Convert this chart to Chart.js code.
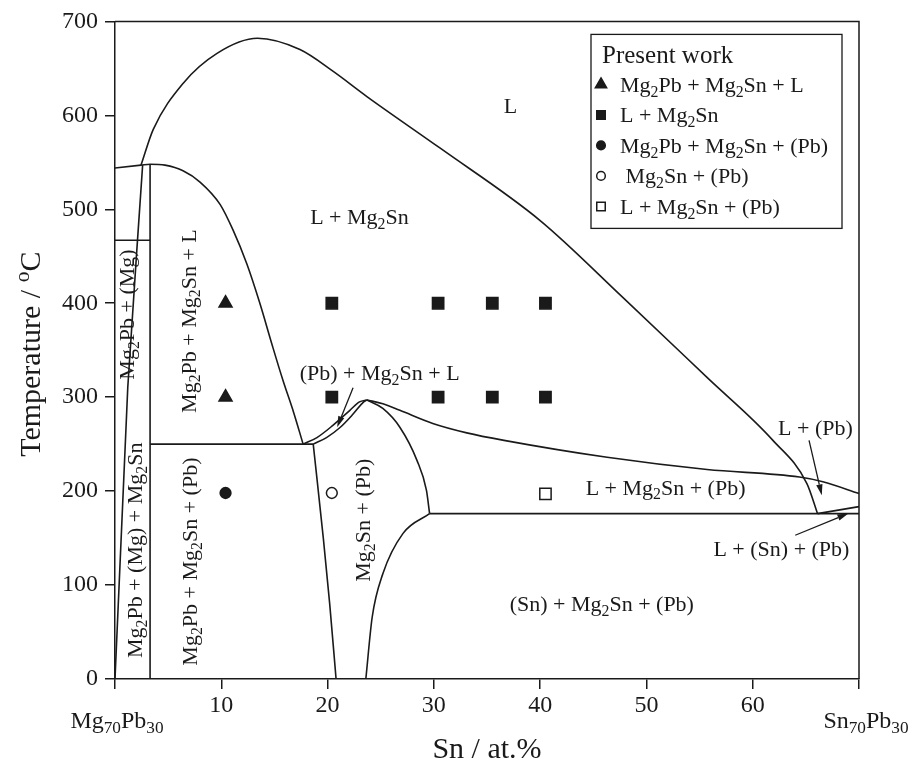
<!DOCTYPE html>
<html>
<head>
<meta charset="utf-8">
<title>Mg70Pb30 - Sn70Pb30 section</title>
<script src="https://cdn.jsdelivr.net/npm/chart.js"></script>
<style>
  html, body { margin: 0; padding: 0; background: #fff; }
  #wrap { width: 924px; height: 772px; }
</style>
</head>
<body>
<div id="wrap"><canvas id="phaseChart" width="924" height="772"></canvas></div>
<script>
// Isopleth Mg70Pb30 - Sn70Pb30: phase boundaries as [Sn at.%, T / °C]
const leftLiquidus   = [[0, 544], [2.45, 547]];
const mainLiquidus   = [[2.45, 547], [3.6, 585], [6.4, 634], [9.6, 666], [13.4, 682], [17.4, 670], [20.5, 647],
                        [23.7, 620], [30.6, 565], [40, 488], [47.8, 406], [55.7, 321], [61.9, 254], [65.1, 208], [66.1, 176]];
const mg2snLiquidus  = [[2.45, 547], [3.3, 548], [4.7, 547], [6.4, 541], [8.0, 529], [9.9, 505], [11.1, 478],
                        [12.4, 442], [13.6, 401], [14.8, 355], [15.8, 318], [16.8, 284], [17.7, 250]];
const mgSolvus       = [[0, 0], [1.2, 310], [2.05, 456], [2.6, 547]];
const mg2pbLine      = [[3.3, 548], [3.3, 0]];
const mgEutectic     = [[0, 467], [3.3, 467]];
const pbEutectic     = [[3.3, 250], [18.65, 250]];
const threePhaseTop  = [[17.7, 250], [19.0, 257], [20.5, 270], [22.1, 286], [23.0, 295], [23.7, 297]];
const threePhaseLow  = [[18.65, 250], [19.9, 257], [21.2, 268], [22.4, 282], [23.4, 295], [23.7, 297]];
const mg2snPbLeft    = [[18.65, 250], [19.6, 150], [20.2, 80], [20.8, 0]];
const pbLiquidus     = [[23.7, 297], [25.2, 293], [26.8, 286], [29.9, 272], [33.1, 262], [36.6, 254], [46.3, 236],
                        [55.7, 223], [64.4, 215], [66.6, 210], [70, 197.5]];
const pbSolvus       = [[23.7, 297], [25.2, 288], [26.8, 268], [28.4, 233], [29.3, 201], [29.6, 176]];
const snSolvus       = [[23.6, 0], [24.2, 66], [25.2, 112], [27.1, 155], [29.6, 176]];
const snEutectic     = [[29.6, 176], [70, 176]];
const lSnPbLine      = [[66.1, 176], [70, 183.5]];

// Experimental points (present work)
const triPts     = [[10.4, 400], [10.4, 300]];
const squarePts  = [[20.4, 400], [30.4, 400], [35.5, 400], [40.5, 400],
                    [20.4, 300], [30.4, 300], [35.5, 300], [40.5, 300]];
const dotPts     = [[10.4, 198]];
const ringPts    = [[20.4, 198]];
const boxPts     = [[40.5, 197]];

const xTicks = [0, 10, 20, 30, 40, 50, 60, 70];
const yTicks = [0, 100, 200, 300, 400, 500, 600, 700];

const FONT = "'Liberation Serif', 'Times New Roman', serif";
const INK = '#1a1a1a';

// '_' starts a numeric subscript, '^' raises the next character
function parseRich(str) {
    const segs = [];
    let buf = '';
    for (let i = 0; i < str.length; i++) {
        const c = str[i];
        if (c === '_') {
            if (buf) { segs.push({ t: buf, k: 'n' }); buf = ''; }
            let s = '';
            while (i + 1 < str.length && /\d/.test(str[i + 1])) s += str[++i];
            segs.push({ t: s, k: 'sub' });
        } else if (c === '^') {
            if (buf) { segs.push({ t: buf, k: 'n' }); buf = ''; }
            segs.push({ t: str[++i], k: 'sup' });
        } else {
            buf += c;
        }
    }
    if (buf) segs.push({ t: buf, k: 'n' });
    return segs;
}

function drawRich(ctx, str, x, y, size, align, rotate) {
    const segs = parseRich(str);
    const small = size * 0.72;
    ctx.save();
    ctx.translate(x, y);
    if (rotate) ctx.rotate(-Math.PI / 2);
    ctx.fillStyle = INK;
    ctx.textBaseline = 'alphabetic';
    ctx.textAlign = 'left';
    let total = 0;
    segs.forEach(s => {
        ctx.font = (s.k === 'n' ? size : small) + 'px ' + FONT;
        s.w = ctx.measureText(s.t).width;
        total += s.w;
    });
    let cx = align === 'left' ? 0 : align === 'right' ? -total : -total / 2;
    const base = size * 0.33;
    segs.forEach(s => {
        ctx.font = (s.k === 'n' ? size : small) + 'px ' + FONT;
        let dy = 0;
        if (s.k === 'sub') dy = size * 0.22;
        if (s.k === 'sup') dy = -size * 0.36;
        ctx.fillText(s.t, cx, base + dy);
        cx += s.w;
    });
    ctx.restore();
}

function drawMarker(ctx, style, x, y, r, filled) {
    ctx.save();
    ctx.beginPath();
    if (style === 'triangle') {
        ctx.moveTo(x, y - r);
        ctx.lineTo(x + r * 0.866, y + r * 0.5);
        ctx.lineTo(x - r * 0.866, y + r * 0.5);
        ctx.closePath();
    } else if (style === 'rect') {
        const s = r * Math.SQRT1_2;
        ctx.rect(x - s, y - s, 2 * s, 2 * s);
    } else {
        ctx.arc(x, y, r, 0, Math.PI * 2);
    }
    ctx.fillStyle = filled ? INK : '#fff';
    ctx.strokeStyle = INK;
    ctx.lineWidth = 1.5;
    ctx.fill();
    ctx.stroke();
    ctx.restore();
}

// Region names, placed in data coordinates
const regionLabels = [
    { text: 'L', x: 37.2, y: 610 },
    { text: 'L + Mg_2Sn', x: 23.0, y: 492 },
    { text: '(Pb) + Mg_2Sn + L', x: 24.9, y: 326 },
    { text: 'L + Mg_2Sn + (Pb)', x: 51.8, y: 204 },
    { text: '(Sn) + Mg_2Sn + (Pb)', x: 45.8, y: 80 },
    { text: 'L + (Sn) + (Pb)', x: 62.7, y: 139 },
    { text: 'L + (Pb)', x: 65.9, y: 267 },
    { text: 'Mg_2Pb + (Mg)', x: 1.13, y: 388, rotate: true },
    { text: 'Mg_2Pb + Mg_2Sn + L', x: 6.9, y: 381, rotate: true },
    { text: 'Mg_2Pb + (Mg) + Mg_2Sn', x: 1.9, y: 137, rotate: true },
    { text: 'Mg_2Pb + Mg_2Sn + (Pb)', x: 7.05, y: 125, rotate: true },
    { text: 'Mg_2Sn + (Pb)', x: 23.3, y: 169, rotate: true }
];

// Pointer arrows from labels to narrow fields
const pointers = [
    { from: [22.4, 310], to: [20.9, 268] },
    { from: [65.3, 254], to: [66.5, 195.5] },
    { from: [64.0, 153], to: [69.0, 176.3] }
];

const phaseDecor = {
    id: 'phaseDecor',
    afterDatasetsDraw(chart) {
        const ctx = chart.ctx;
        const xs = chart.scales.x, ys = chart.scales.y;
        const area = chart.chartArea;

        // closing frame on top and right
        ctx.save();
        ctx.strokeStyle = INK;
        ctx.lineWidth = 1.5;
        ctx.beginPath();
        ctx.moveTo(area.left, area.top);
        ctx.lineTo(area.right, area.top);
        ctx.lineTo(area.right, area.bottom);
        ctx.stroke();
        ctx.restore();

        regionLabels.forEach(l => {
            drawRich(ctx, l.text, xs.getPixelForValue(l.x), ys.getPixelForValue(l.y), 22, 'center', l.rotate);
        });

        pointers.forEach(p => {
            const x0 = xs.getPixelForValue(p.from[0]), y0 = ys.getPixelForValue(p.from[1]);
            const x1 = xs.getPixelForValue(p.to[0]), y1 = ys.getPixelForValue(p.to[1]);
            const ang = Math.atan2(y1 - y0, x1 - x0);
            const len = 11, half = 3.2;
            ctx.save();
            ctx.strokeStyle = INK;
            ctx.fillStyle = INK;
            ctx.lineWidth = 1.3;
            ctx.beginPath();
            ctx.moveTo(x0, y0);
            ctx.lineTo(x1 - Math.cos(ang) * len, y1 - Math.sin(ang) * len);
            ctx.stroke();
            ctx.beginPath();
            ctx.moveTo(x1, y1);
            ctx.lineTo(x1 - Math.cos(ang) * len - Math.sin(ang) * half, y1 - Math.sin(ang) * len + Math.cos(ang) * half);
            ctx.lineTo(x1 - Math.cos(ang) * len + Math.sin(ang) * half, y1 - Math.sin(ang) * len - Math.cos(ang) * half);
            ctx.closePath();
            ctx.fill();
            ctx.restore();
        });

        // legend box
        const boxL = area.right - 268, boxR = area.right - 17;
        const boxT = area.top + 13, boxB = area.top + 207;
        ctx.save();
        ctx.fillStyle = '#fff';
        ctx.fillRect(boxL, boxT, boxR - boxL, boxB - boxT);
        ctx.strokeStyle = INK;
        ctx.lineWidth = 1.3;
        ctx.strokeRect(boxL, boxT, boxR - boxL, boxB - boxT);
        ctx.restore();
        drawRich(ctx, 'Present work', boxL + 11, boxT + 20, 25, 'left');
        let row = boxT + 50;
        chart.data.datasets.filter(d => d.legendText).forEach(d => {
            drawMarker(ctx, d.pointStyle, boxL + 10, row, d.legendRadius, d.backgroundColor !== '#fff');
            drawRich(ctx, d.legendText, boxL + 29, row, 22, 'left');
            row += 30.5;
        });

        // end-member names under the composition axis
        const yb = area.bottom + 41;
        drawRich(ctx, 'Mg_70Pb_30', xs.getPixelForValue(0) + 2, yb, 24, 'center');
        drawRich(ctx, 'Sn_70Pb_30', xs.getPixelForValue(70) + 7, yb, 24, 'center');

        // axis titles
        drawRich(ctx, 'Sn / at.%', (area.left + area.right) / 2, area.bottom + 69, 30, 'center');
        drawRich(ctx, 'Temperature / ^oC', 30, (area.top + area.bottom) / 2 + 4, 30, 'center', true);
    }
};

function toXY(pairs) {
    return pairs.map(p => ({ x: p[0], y: p[1] }));
}

function boundary(pairs, smooth) {
    return {
        type: 'line',
        data: toXY(pairs),
        borderColor: INK,
        borderWidth: 1.6,
        pointRadius: 0,
        fill: false,
        cubicInterpolationMode: smooth ? 'monotone' : 'default',
        tension: 0,
        clip: false
    };
}

function markers(pairs, style, radius, filled, legendText, legendRadius) {
    return {
        type: 'scatter',
        data: toXY(pairs),
        pointStyle: style,
        pointRadius: radius,
        backgroundColor: filled ? INK : '#fff',
        borderColor: INK,
        borderWidth: 1.5,
        showLine: false,
        legendText: legendText,
        legendRadius: legendRadius,
        clip: false
    };
}

const datasets = [
    boundary(leftLiquidus),
    boundary(mainLiquidus, true),
    boundary(mg2snLiquidus, true),
    boundary(mgSolvus),
    boundary(mg2pbLine),
    boundary(mgEutectic),
    boundary(pbEutectic),
    boundary(threePhaseTop, true),
    boundary(threePhaseLow, true),
    boundary(mg2snPbLeft, true),
    boundary(pbLiquidus, true),
    boundary(pbSolvus, true),
    boundary(snSolvus, true),
    boundary(snEutectic),
    boundary(lSnPbLine),
    markers(triPts, 'triangle', 7.5, true, 'Mg_2Pb + Mg_2Sn + L', 6.5),
    markers(squarePts, 'rect', 8, true, 'L + Mg_2Sn', 6),
    markers(dotPts, 'circle', 5.4, true, 'Mg_2Pb + Mg_2Sn + (Pb)', 4.3),
    markers(ringPts, 'circle', 5.4, false, ' Mg_2Sn + (Pb)', 4.3),
    markers(boxPts, 'rect', 8, false, 'L + Mg_2Sn + (Pb)', 6)
];

new Chart(document.getElementById('phaseChart'), {
    type: 'scatter',
    data: { datasets: datasets },
    options: {
        responsive: false,
        animation: false,
        events: [],
        layout: { padding: { top: 20, right: 65, left: 0, bottom: 0 } },
        plugins: { legend: { display: false }, tooltip: { enabled: false } },
        scales: {
            x: {
                type: 'linear',
                min: 0,
                max: 70,
                afterFit: s => { s.height = 93; },
                afterBuildTicks: s => { s.ticks = xTicks.map(v => ({ value: v })); },
                ticks: {
                    padding: 2,
                    color: INK,
                    font: { family: FONT, size: 24 },
                    callback: v => (v === 0 || v === 70) ? '' : v
                },
                grid: { drawOnChartArea: false, drawTicks: true, tickLength: 10, color: INK, lineWidth: 1.5 },
                border: { color: INK, width: 1.5 }
            },
            y: {
                type: 'linear',
                min: 0,
                max: 700,
                afterFit: s => { s.width = 115; },
                afterBuildTicks: s => { s.ticks = yTicks.map(v => ({ value: v })); },
                ticks: {
                    padding: 7,
                    color: INK,
                    font: { family: FONT, size: 24 }
                },
                grid: { drawOnChartArea: false, drawTicks: true, tickLength: 10, color: INK, lineWidth: 1.5 },
                border: { color: INK, width: 1.5 }
            }
        }
    },
    plugins: [phaseDecor]
});
</script>
</body>
</html>
